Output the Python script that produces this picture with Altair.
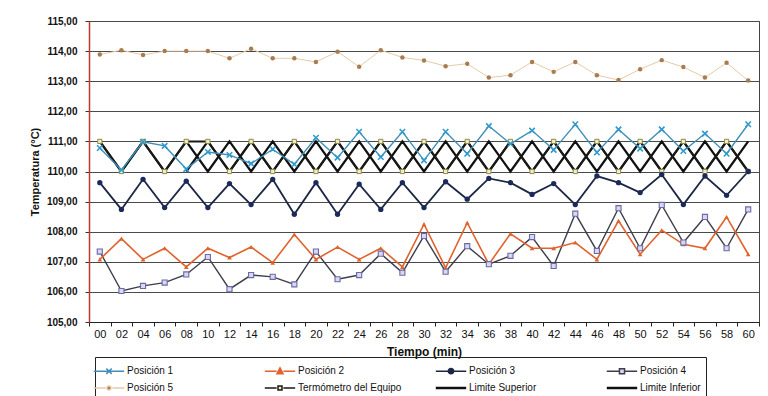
import altair as alt
import pandas as pd

# ---------------- data ----------------
minutos = ["00", "02", "04", "06", "08", "10", "12", "14", "16", "18", "20",
           "22", "24", "26", "28", "30", "32", "34", "36", "38", "40",
           "42", "44", "46", "48", "50", "52", "54", "56", "58", "60"]

posicion_1 = [110.78, 110.05, 110.99, 110.85, 110.08, 110.65, 110.55, 110.26, 110.74, 110.24, 111.12,
              110.46, 111.32, 110.48, 111.32, 110.37, 111.32, 110.59, 111.51, 110.92, 111.36,
              110.72, 111.57, 110.63, 111.40, 110.76, 111.40, 110.68, 111.26, 110.59, 111.57]
posicion_2 = [107.08, 107.77, 107.08, 107.45, 106.83, 107.45, 107.14, 107.49, 106.97, 107.91, 107.08,
              107.49, 107.08, 107.45, 106.83, 108.25, 106.80, 108.30, 106.92, 107.93, 107.45,
              107.45, 107.64, 107.08, 108.36, 107.25, 108.05, 107.58, 107.45, 108.49, 107.25]
posicion_3 = [109.63, 108.74, 109.74, 108.80, 109.68, 108.80, 109.60, 108.90, 109.74, 108.58, 109.63,
              108.58, 109.58, 108.74, 109.63, 108.80, 109.66, 109.08, 109.77, 109.63, 109.24,
              109.60, 108.90, 109.85, 109.63, 109.30, 109.90, 108.90, 109.85, 109.21, 110.00]
posicion_4 = [107.34, 106.03, 106.20, 106.31, 106.58, 107.16, 106.09, 106.56, 106.50, 106.25, 107.34,
              106.42, 106.56, 107.27, 106.64, 107.86, 106.67, 107.52, 106.92, 107.20, 107.82,
              106.86, 108.60, 107.36, 108.78, 107.45, 108.89, 107.64, 108.49, 107.45, 108.74]
posicion_5 = [113.89, 114.03, 113.87, 114.00, 114.00, 114.00, 113.76, 114.08, 113.76, 113.76, 113.64,
              113.98, 113.48, 114.03, 113.79, 113.69, 113.50, 113.58, 113.12, 113.20, 113.64,
              113.31, 113.64, 113.20, 113.04, 113.40, 113.70, 113.47, 113.12, 113.61, 113.02]
termometro = [111, 110, 111, 110, 111, 111, 110, 111, 110, 111, 110,
              111, 110, 111, 110, 111, 110, 111, 110, 111, 110,
              111, 110, 111, 110, 111, 110, 111, 110, 111, 110]
limite_superior = [111, 110, 111, 110, 111, 110, 111, 110, 111, 110, 111,
                   110, 111, 110, 111, 110, 111, 110, 111, 110, 111,
                   110, 111, 110, 111, 110, 111, 110, 111, 110, 111]
limite_inferior = [None, None, None, None, 110, 111, 110, 111, 110, 111, 110,
                   111, 110, 111, 110, 111, 110, 111, 110, 111, 110,
                   111, 110, 111, 110, 111, 110, 111, 110, 111, 110]

series = ["Posición 1", "Posición 2", "Posición 3", "Posición 4",
          "Posición 5", "Termómetro del Equipo", "Limite Superior", "Limite Inferior"]
valores = [posicion_1, posicion_2, posicion_3, posicion_4,
           posicion_5, termometro, limite_superior, limite_inferior]

# styles
line_colors = ["#3f8fb8", "#e0622c", "#1d2744", "#3d3d4c", "#e6cba9", "#1a1a16", "#111111", "#111111"]
line_widths = [1.4, 1.6, 1.8, 1.4, 1.0, 2.0, 2.2, 2.2]
legend_fills = ["#3f8fb8", "#e0622c", "#1d2744", "#d8d8f0", "#a87c50", "#f3eec0", "#111111", "#111111"]

ln = "M-1.9,0H-0.42M0.42,0H1.9"
legend_shapes = [
    "M-1.9,0H1.9M-0.34,-0.34L0.34,0.34M-0.34,0.34L0.34,-0.34",
    ln + "M0,-0.42L0.38,0.3L-0.38,0.3Z",
    ln + "M-0.34,0A0.34,0.34 0 1,0 0.34,0A0.34,0.34 0 1,0 -0.34,0Z",
    ln + "M-0.32,-0.32H0.32V0.32H-0.32Z",
    ln + "M-0.26,0A0.26,0.26 0 1,0 0.26,0A0.26,0.26 0 1,0 -0.26,0Z",
    ln + "M-0.25,-0.25H0.25V0.25H-0.25Z",
    "M-1.9,-0.07H1.9M-1.9,0.07H1.9",
    "M-1.9,-0.07H1.9M-1.9,0.07H1.9",
]

rows = []
for name, vals in zip(series, valores):
    for m, v in zip(minutos, vals):
        if v is not None:
            rows.append({"serie": name, "t": m, "temp": v})
df = pd.DataFrame(rows)

# one row per series, placed below the visible domain (clipped), only to build the legend
legend_df = pd.DataFrame({"serie": series, "t": ["00"] * len(series), "temp": [100.0] * len(series)})

FONT = "Liberation Sans"

x_enc = alt.X(
    "t:O", sort=minutos, bandPosition=0.5,
    scale=alt.Scale(type="band", domain=minutos, paddingInner=0, paddingOuter=0),
    axis=alt.Axis(title="Tiempo (min)", labelAngle=0, tickBand="extent", ticks=True, tickSize=4,
                  tickColor="#222", domainColor="#222", domainWidth=1.2, grid=False,
                  labelFont=FONT, labelFontSize=11, labelColor="#111", labelPadding=2,
                  titleFont=FONT, titleFontSize=12, titleFontWeight="bold", titleColor="#111",
                  titlePadding=7),
)
y_enc = alt.Y(
    "temp:Q",
    scale=alt.Scale(domain=[105, 115], nice=False, zero=False),
    axis=alt.Axis(values=list(range(105, 116)),
                  labelExpr="replace(format(datum.value, '.2f'), '.', ',')",
                  title="Temperatura (°C)", grid=True, gridColor="#4a4a4a", gridWidth=1.2,
                  domainColor="#c0392b", domainWidth=1.5, tickColor="#333", tickSize=4,
                  labelFont=FONT, labelFontSize=10, labelFontWeight="bold", labelColor="#111",
                  labelPadding=8, titleFont=FONT, titleFontSize=11, titleFontWeight="bold",
                  titleColor="#111", titlePadding=6),
)

base = alt.Chart(df)


def only(name):
    return base.transform_filter(alt.datum.serie == name)


def line(name):
    i = series.index(name)
    return only(name).mark_line(stroke=line_colors[i], strokeWidth=line_widths[i]).encode(x=x_enc, y=y_enc)


def markers(name, **mark):
    return only(name).mark_point(**mark).encode(x=x_enc, y=y_enc)


line_layers = [line(n) for n in ["Limite Superior", "Limite Inferior", "Termómetro del Equipo",
                                 "Posición 5", "Posición 4", "Posición 2", "Posición 3", "Posición 1"]]

m_term = markers("Termómetro del Equipo", shape="square", size=18, filled=True,
                 fill="#f3eec0", stroke="#8d8a4e", strokeWidth=1, opacity=1)
m1 = markers("Posición 1", shape="M-1,-1L1,1M-1,1L1,-1", size=30, filled=False,
             stroke="#2f9acb", strokeWidth=1.6, opacity=1)
m2 = markers("Posición 2", shape="triangle-up", size=22, filled=True, fill="#e0622c", opacity=1)
m3 = markers("Posición 3", shape="circle", size=28, filled=True, fill="#1b2a5c", opacity=1)
m4 = markers("Posición 4", shape="square", size=26, filled=True, fill="#d8d8f0",
             stroke="#6a6aa6", strokeWidth=1.1, opacity=1)
m5 = markers("Posición 5", shape="circle", size=20, filled=True, fill="#a87c50", opacity=1)

leg = alt.Legend(title=None, orient="none", legendX=6, legendY=336, direction="horizontal",
                 columns=4, gridAlign="all", columnPadding=30, rowPadding=2, padding=5,
                 strokeColor="#222", symbolSize=256, symbolStrokeWidth=1.5,
                 labelFont=FONT, labelFontSize=10, labelColor="#111", labelOffset=9)

legend_layer = alt.Chart(legend_df).mark_point(filled=False, strokeWidth=1.5, opacity=1, clip=True).encode(
    x=x_enc, y=y_enc,
    color=alt.Color("serie:N", scale=alt.Scale(domain=series, range=line_colors), legend=leg),
    fill=alt.Fill("serie:N", scale=alt.Scale(domain=series, range=legend_fills), legend=leg),
    shape=alt.Shape("serie:N", scale=alt.Scale(domain=series, range=legend_shapes), legend=leg),
)

chart = alt.layer(
    *line_layers, m_term, m1, m2, m3, m4, m5, legend_layer
).properties(
    width=670, height=301,
    padding={"left": 21, "top": 8, "right": 0, "bottom": 0},
    background="white",
).configure_view(stroke="#444", strokeWidth=1)

chart.save("out.html", embed_options={"renderer": "svg", "actions": False})
